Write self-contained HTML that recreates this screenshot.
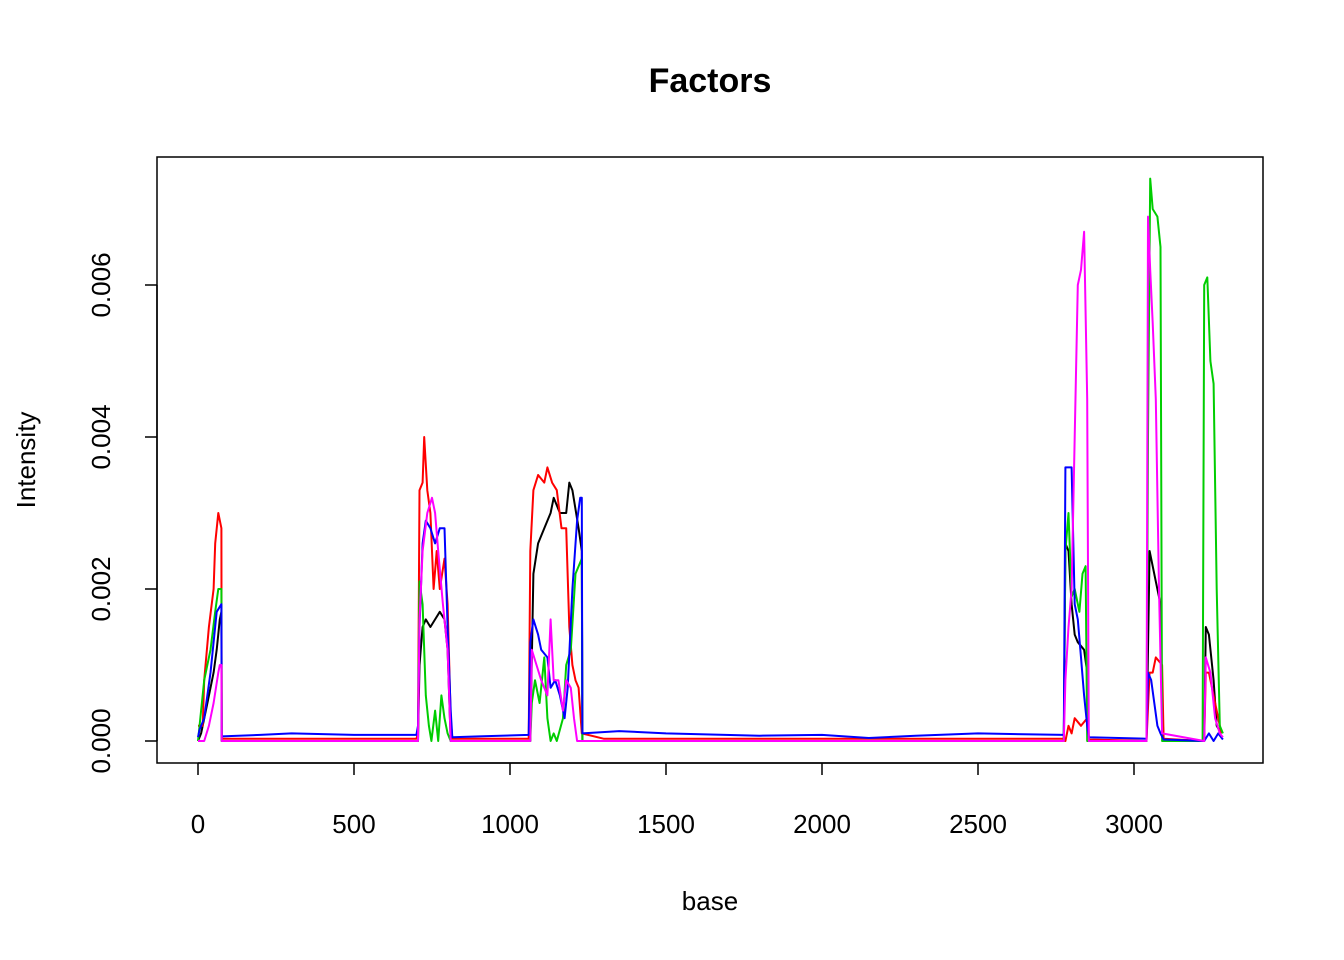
<!DOCTYPE html>
<html><head><meta charset="utf-8"><style>body{margin:0;background:#fff}svg{display:block}</style></head>
<body>
<svg id="chart" width="1344" height="960" xmlns="http://www.w3.org/2000/svg" font-family="Liberation Sans, sans-serif"></svg>
<script>
const xTicks=[0,500,1000,1500,2000,2500,3000];
const yTicks=[0,0.002,0.004,0.006];
const yTickLabels=["0.000","0.002","0.004","0.006"];
const seriesNames=["black","red","green","blue","magenta"];
const blackX=[0,10,30,50,60,70,75,76,705,710,720,730,745,760,775,790,800,810,1065,1075,1090,1110,1130,1140,1160,1180,1190,1200,1220,1230,1232,2775,2780,2790,2800,2810,2820,2840,2850,2855,3040,3050,3060,3070,3085,3090,3095,3225,3230,3240,3255,3265,3280];
const blackY=[0,0.0001,0.0005,0.0009,0.0012,0.0016,0.0017,0,0,0.001,0.0015,0.0016,0.0015,0.0016,0.0017,0.0016,0.0012,0,0,0.0022,0.0026,0.0028,0.003,0.0032,0.003,0.003,0.0034,0.0033,0.0028,0.0025,0,0,0.0026,0.0025,0.0018,0.0014,0.0013,0.0012,0.0009,0,0,0.0025,0.0023,0.0021,0.0018,0.0005,0,0,0.0015,0.0014,0.0008,0.0002,0.0001];
const redX=[0,15,20,35,50,55,65,75,76,700,705,710,720,725,735,745,755,765,775,790,800,810,815,1060,1065,1075,1090,1110,1120,1135,1150,1165,1180,1190,1200,1210,1220,1230,1300,2775,2780,2790,2800,2810,2830,2850,2855,3040,3050,3060,3070,3090,3095,3225,3230,3240,3260,3280];
const redY=[0.0002,0.0002,0.0008,0.0015,0.002,0.0026,0.003,0.0028,0.00003,0.00003,0.0001,0.0033,0.0034,0.004,0.0033,0.003,0.002,0.0025,0.002,0.0024,0.0018,0.0003,0.00003,0.00003,0.0025,0.0033,0.0035,0.0034,0.0036,0.0034,0.0033,0.0028,0.0028,0.0015,0.001,0.0008,0.0007,0.0001,0.00003,0.00003,0,0.0002,0.0001,0.0003,0.0002,0.0003,0.00002,0,0.0009,0.0009,0.0011,0.001,0.00003,0,0.0009,0.0009,0.0005,0.0001];
const greenX=[0,20,40,55,65,75,76,705,710,720,730,740,748,760,770,780,790,800,810,1065,1070,1080,1095,1110,1120,1130,1140,1150,1170,1180,1195,1210,1230,1232,2775,2780,2790,2800,2810,2825,2835,2845,2850,3040,3045,3052,3060,3075,3085,3090,3220,3225,3235,3245,3255,3265,3275,3285];
const greenY=[0,0.0008,0.0012,0.0017,0.002,0.002,0,0,0.0021,0.0018,0.0006,0.0002,0,0.0004,0,0.0006,0.0003,0.0001,0,0,0.0005,0.0008,0.0005,0.0011,0.0003,0,0.0001,0,0.0003,0.001,0.0012,0.0022,0.0024,0,0,0.0025,0.003,0.0019,0.002,0.0017,0.0022,0.0023,0,0,0.004,0.0074,0.007,0.0069,0.0065,0,0,0.006,0.0061,0.005,0.0047,0.002,0.0002,0.0001];
const blueX=[0,5,20,40,60,75,76,200,300,500,700,705,710,720,730,745,760,775,790,800,810,815,900,1060,1065,1075,1090,1100,1120,1130,1145,1160,1175,1185,1200,1215,1225,1230,1232,1350,1500,1800,2000,2150,2300,2500,2775,2780,2800,2810,2820,2830,2840,2850,2855,3040,3045,3055,3065,3075,3085,3095,3225,3240,3255,3270,3285];
const blueY=[0.00005,0.00015,0.0003,0.0009,0.0017,0.0018,0.00006,0.00008,0.0001,0.00008,0.00008,0.0002,0.0015,0.0026,0.0029,0.0028,0.0026,0.0028,0.0028,0.0015,0.0004,0.00005,0.00006,0.00008,0.0013,0.0016,0.0014,0.0012,0.0011,0.0007,0.0008,0.0006,0.0003,0.0007,0.002,0.0029,0.0032,0.0032,0.0001,0.00013,0.0001,0.00007,0.00008,0.00004,0.00007,0.0001,0.00008,0.0036,0.0036,0.0018,0.0016,0.0011,0.0006,0.0002,0.00005,0.00003,0.0009,0.0008,0.0005,0.0002,0.0001,0.00002,0,0.0001,0,0.0001,0.00002];
const magentaX=[0,20,35,50,65,70,75,76,705,710,720,735,750,760,770,785,800,810,1065,1070,1085,1100,1120,1130,1140,1155,1170,1180,1195,1205,1215,2775,2780,2790,2800,2810,2820,2830,2840,2850,2855,3040,3045,3052,3060,3070,3080,3090,3225,3230,3245,3260,3275,3285];
const magentaY=[0,0,0.0002,0.0005,0.0009,0.001,0.001,0,0,0.0016,0.0025,0.003,0.0032,0.003,0.0025,0.0018,0.0012,0,0,0.0012,0.001,0.0008,0.0006,0.0016,0.0008,0.0008,0.0004,0.0008,0.0007,0.0003,0,0,0.0008,0.0015,0.002,0.004,0.006,0.0062,0.0067,0.0045,0,0,0.0069,0.0062,0.0055,0.0045,0.002,0.0001,0,0.0011,0.0009,0.0003,0.0001,0.00005];

const svg=document.getElementById('chart');
const NS='http://www.w3.org/2000/svg';
const L=157,R=1263,T=157,B=763;
const xs=v=>198+v*(936/3000);
const ys=v=>741-v*76000;
function mk(tag,attrs,parent){const e=document.createElementNS(NS,tag);for(const k in attrs)e.setAttribute(k,attrs[k]);(parent||svg).appendChild(e);return e;}

let t=mk('text',{x:710,y:92,'text-anchor':'middle','font-size':34,'font-weight':'bold'});t.textContent='Factors';


let fr=mk('rect',{x:L,y:T,width:R-L,height:B-T,fill:'none',stroke:'#000','stroke-width':1.5});



xTicks.forEach(v=>{
  const l=mk('line',{x1:xs(v),x2:xs(v),y1:B,y2:B+12,stroke:'#000','stroke-width':1.5});
  
  
  const tx=mk('text',{x:xs(v),y:833,'text-anchor':'middle','font-size':26});tx.textContent=String(v);
  
  
});
mk('line',{x1:xs(0),x2:xs(3000),y1:B,y2:B,stroke:'#000','stroke-width':1.5});
yTicks.forEach((v,i)=>{
  const l=mk('line',{x1:L-12,x2:L,y1:ys(v),y2:ys(v),stroke:'#000','stroke-width':1.5});
  
  
  const tx=mk('text',{x:0,y:0,'text-anchor':'middle','font-size':26,transform:`translate(110,${ys(v)}) rotate(-90)`});tx.textContent=yTickLabels[i];
  
  
});
mk('line',{x1:L,x2:L,y1:ys(0),y2:ys(0.006),stroke:'#000','stroke-width':1.5});
t=mk('text',{x:710,y:910,'text-anchor':'middle','font-size':26});t.textContent='base';


t=mk('text',{x:0,y:0,'text-anchor':'middle','font-size':26,transform:'translate(35,460) rotate(-90)'});t.textContent='Intensity';



const data=[[blackX,blackY,'#000000'],[redX,redY,'#ff0000'],[greenX,greenY,'#00cd00'],[blueX,blueY,'#0000ff'],[magentaX,magentaY,'#ff00ff']];
data.forEach((d,i)=>{
  const pts=d[0].map((x,j)=>xs(x).toFixed(1)+','+ys(d[1][j]).toFixed(1)).join(' ');
  const p=mk('polyline',{points:pts,fill:'none',stroke:d[2],'stroke-width':2,'stroke-linejoin':'round'});
  
  
});
</script>
</body></html>
